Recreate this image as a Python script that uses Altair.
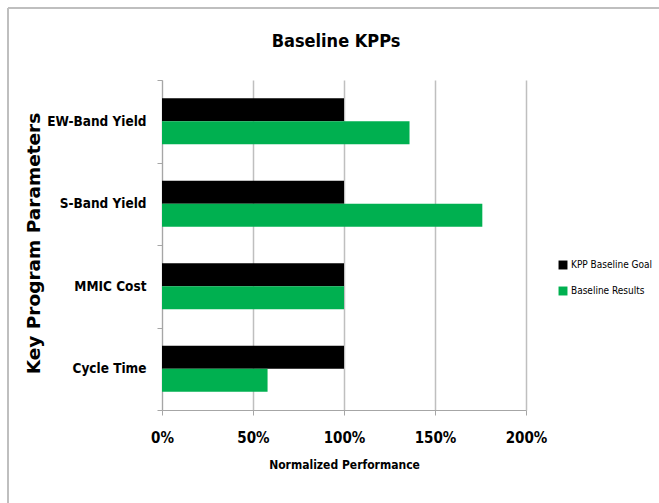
import altair as alt
import pandas as pd

categories = ["EW-Band Yield", "S-Band Yield", "MMIC Cost", "Cycle Time"]
goal_values = [100, 100, 100, 100]
result_values = [136, 176, 100, 58]
series_names = ["KPP Baseline Goal", "Baseline Results"]
series_colors = ["#000000", "#00B050"]

rows = []
for c, g, r in zip(categories, goal_values, result_values):
    rows.append({"category": c, "series": series_names[0], "value": g / 100})
    rows.append({"category": c, "series": series_names[1], "value": r / 100})
df = pd.DataFrame(rows)

FONT = "DejaVu Sans Condensed"

bars = alt.Chart(df).mark_bar().encode(
    y=alt.Y("category:N", sort=categories,
            scale=alt.Scale(paddingInner=0, paddingOuter=0),
            axis=alt.Axis(title="Key Program Parameters", grid=False,
                          domainColor="#a6a6a6", tickColor="#a6a6a6", tickSize=5,
                          tickBand="extent",
                          labelFont=FONT, labelFontSize=13.5, labelFontWeight="bold",
                          labelColor="#000000", labelPadding=11,
                          titleFont="DejaVu Sans", titleFontSize=18.5, titleFontWeight="bold",
                          titleColor="#000000", titleX=-129, titleY=163, titleAngle=270,
                          titleAlign="center", titleBaseline="middle")),
    yOffset=alt.YOffset("series:N", sort=series_names,
                        scale=alt.Scale(paddingInner=0, paddingOuter=0.79)),
    x=alt.X("value:Q", scale=alt.Scale(domain=[0, 2], nice=False),
            axis=alt.Axis(title="Normalized Performance", format=".0%",
                          values=[0, 0.5, 1, 1.5, 2], labelFlush=False,
                          grid=True, gridColor="#bfbfbf", gridWidth=1.5,
                          domainColor="#a6a6a6", tickColor="#a6a6a6", tickSize=5,
                          labelFont=FONT, labelFontSize=15, labelFontWeight="bold",
                          labelColor="#000000", labelPadding=15,
                          titleFont=FONT, titleFontSize=12, titleFontWeight="bold",
                          titleColor="#000000", titlePadding=14)),
    color=alt.Color("series:N", sort=series_names,
                    scale=alt.Scale(domain=series_names, range=series_colors),
                    legend=alt.Legend(title=None, orient="none", legendX=396, legendY=180,
                                      symbolType="square", symbolSize=80,
                                      symbolStrokeWidth=0, rowPadding=16,
                                      labelFont=FONT, labelFontSize=10,
                                      labelColor="#000000", labelLimit=200,
                                      labelOffset=3)),
)

frame_df = pd.DataFrame({"k": [0]})
top_line = alt.Chart(frame_df).mark_rule(color="#bfbfbf", strokeWidth=2, clip=False).encode(
    x=alt.value(-154), x2=alt.value(497), y=alt.value(-72))
left_line = alt.Chart(frame_df).mark_rule(color="#bfbfbf", strokeWidth=2, clip=False).encode(
    x=alt.value(-154), y=alt.value(-72), y2=alt.value(423))

chart = alt.layer(bars, top_line, left_line).properties(
    width=364, height=330,
    title=alt.TitleParams("Baseline KPPs", font=FONT, fontSize=18, fontWeight="bold",
                          color="#000000", offset=-44, dx=-8),
    autosize=alt.AutoSizeParams(type="none"),
    padding={"left": 162, "top": 80, "right": 133, "bottom": 93},
    background="white",
).configure_view(stroke=None)

chart.save("out.html", embed_options={"renderer": "svg", "actions": False})
